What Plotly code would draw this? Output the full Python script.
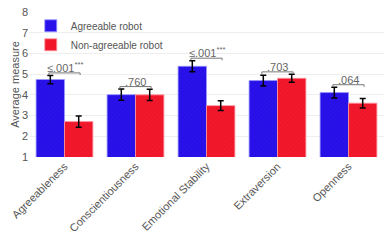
import plotly.graph_objects as go

categories = ["Agreeableness", "Conscientiousness", "Emotional Stability", "Extraversion", "Openness"]
agree_vals = [4.74, 4.01, 5.38, 4.69, 4.11]
agree_err = [0.20, 0.27, 0.27, 0.26, 0.26]
nonagree_vals = [2.71, 4.00, 3.48, 4.80, 3.60]
nonagree_err = [0.27, 0.27, 0.24, 0.19, 0.23]
p_labels = ["≤.001<sup>***</sup>", ".760", "≤.001<sup>***</sup>", ".703", ".064"]

BLUE = "#2a12ee"
RED = "#f5182c"
FONT = "Liberation Sans, Arial, sans-serif"
GRAY = "#555555"

fig = go.Figure()
fig.add_trace(go.Bar(
    x=categories, y=agree_vals, name="Agreeable robot",
    marker=dict(color=BLUE, line=dict(color="rgba(150,150,255,0.8)", width=1),
                pattern=dict(shape="/", fgcolor="#1d08c8", size=3, solidity=0.3)),
    error_y=dict(type="data", array=agree_err, color="black", thickness=1.5, width=3),
))
fig.add_trace(go.Bar(
    x=categories, y=nonagree_vals, name="Non-agreeable robot",
    marker=dict(color=RED, line=dict(color="rgba(255,150,160,0.8)", width=1),
                pattern=dict(shape="/", fgcolor="#d80f22", size=3, solidity=0.3)),
    error_y=dict(type="data", array=nonagree_err, color="black", thickness=1.5, width=3),
))

for i, lab in enumerate(p_labels):
    top = max(agree_vals[i] + agree_err[i], nonagree_vals[i] + nonagree_err[i])
    yb = top + 0.12
    x0, x1 = i - 0.22, i + 0.22
    fig.add_shape(type="path",
                  path=f"M {x0},{yb-0.1} L {x0},{yb} L {x1},{yb} L {x1},{yb-0.1}",
                  xref="x", yref="y", line=dict(color="#777", width=1))
    fig.add_annotation(x=i, y=yb, xref="x", yref="y", text=lab, showarrow=False,
                       yanchor="bottom", yshift=-3, font=dict(family=FONT, size=11, color="#666"))

# white backing behind the legend (hides the gridline there)
fig.add_shape(type="rect", xref="paper", yref="paper", x0=0.02, x1=0.36, y0=0.80, y1=0.95,
              fillcolor="white", line=dict(width=0, color="white"), layer="between")

fig.update_layout(
    width=389, height=243,
    margin=dict(l=29, r=5, t=12, b=86),
    plot_bgcolor="white", paper_bgcolor="white",
    barmode="group", bargap=0.2, bargroupgap=0,
    font=dict(family=FONT, size=11, color=GRAY),
    legend=dict(x=0.005, y=1.005, xanchor="left", yanchor="top", bgcolor="rgba(0,0,0,0)",
                font=dict(family=FONT, size=10, color=GRAY), tracegroupgap=0),
    showlegend=True,
)
fig.update_xaxes(tickangle=-45, showgrid=False, automargin=False,
                 tickfont=dict(family=FONT, size=11, color=GRAY))
fig.update_yaxes(range=[1, 8], dtick=1, gridcolor="#eeeeee", zeroline=False, automargin=False,
                 title=dict(text="Average measure", font=dict(family=FONT, size=11, color=GRAY), standoff=0),
                 tickfont=dict(family=FONT, size=11, color=GRAY))

fig.write_html("out.html", config={"displayModeBar": False},
               post_script="document.body.style.margin='0';")
